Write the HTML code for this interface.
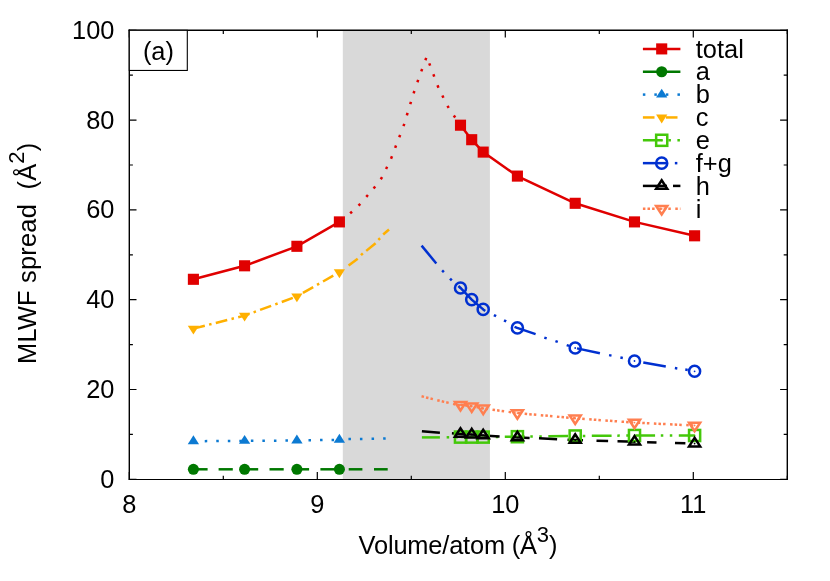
<!DOCTYPE html>
<html><head><meta charset="utf-8"><title>MLWF spread</title>
<style>html,body{margin:0;padding:0;background:#fff;}svg{display:block;will-change:transform;}text{font-family:"Liberation Sans", sans-serif;font-size:25.4px;fill:#000;}</style></head><body>
<svg width="830" height="581" viewBox="0 0 830 581">
<rect x="0" y="0" width="830" height="581" fill="#ffffff"/>
<rect x="342.8" y="30.3" width="147.1" height="449" fill="#d9d9d9"/>
<g stroke="#000" stroke-width="1.2" fill="none">
<path d="M129.3,479.3V472.1M129.3,30.3V37.5"/>
<path d="M223.3,479.3V475.7M223.3,30.3V33.9"/>
<path d="M317.3,479.3V472.1M317.3,30.3V37.5"/>
<path d="M411.3,479.3V475.7M411.3,30.3V33.9"/>
<path d="M505.3,479.3V472.1M505.3,30.3V37.5"/>
<path d="M599.3,479.3V475.7M599.3,30.3V33.9"/>
<path d="M693.3,479.3V472.1M693.3,30.3V37.5"/>
<path d="M787.3,479.3V475.7M787.3,30.3V33.9"/>
<path d="M129.3,479.3H136.5M787.3,479.3H780.1"/>
<path d="M129.3,434.4H132.9M787.3,434.4H783.7"/>
<path d="M129.3,389.5H136.5M787.3,389.5H780.1"/>
<path d="M129.3,344.6H132.9M787.3,344.6H783.7"/>
<path d="M129.3,299.7H136.5M787.3,299.7H780.1"/>
<path d="M129.3,254.8H132.9M787.3,254.8H783.7"/>
<path d="M129.3,209.9H136.5M787.3,209.9H780.1"/>
<path d="M129.3,165H132.9M787.3,165H783.7"/>
<path d="M129.3,120.1H136.5M787.3,120.1H780.1"/>
<path d="M129.3,75.2H132.9M787.3,75.2H783.7"/>
<path d="M129.3,30.3H136.5M787.3,30.3H780.1"/>
</g>
<polyline points="193.4,469.3 207.6,469.3" fill="none" stroke="#007800" stroke-width="2.5"/>
<polyline points="218.6,469.3 232.8,469.3" fill="none" stroke="#007800" stroke-width="2.5"/>
<polyline points="244,469.3 258.2,469.3" fill="none" stroke="#007800" stroke-width="2.5"/>
<polyline points="269.5,469.3 283.7,469.3" fill="none" stroke="#007800" stroke-width="2.5"/>
<polyline points="294.9,469.3 309.1,469.3" fill="none" stroke="#007800" stroke-width="2.5"/>
<polyline points="320.4,469.3 334.6,469.3" fill="none" stroke="#007800" stroke-width="2.5"/>
<polyline points="348.7,469.3 362.4,469.3" fill="none" stroke="#007800" stroke-width="2.5"/>
<polyline points="374,469.3 387.7,469.3" fill="none" stroke="#007800" stroke-width="2.5"/>
<circle cx="193.4" cy="469.3" r="5.55" fill="#007800"/>
<circle cx="244.6" cy="469.3" r="5.55" fill="#007800"/>
<circle cx="296.9" cy="469.3" r="5.55" fill="#007800"/>
<circle cx="339.4" cy="469.3" r="5.55" fill="#007800"/>
<line x1="204.75" y1="441.13" x2="207.25" y2="441.12" stroke="#0c7ad2" stroke-width="2.5"/>
<line x1="216.28" y1="441.07" x2="218.78" y2="441.05" stroke="#0c7ad2" stroke-width="2.5"/>
<line x1="227.81" y1="441" x2="230.31" y2="440.98" stroke="#0c7ad2" stroke-width="2.5"/>
<line x1="239.34" y1="440.93" x2="241.84" y2="440.92" stroke="#0c7ad2" stroke-width="2.5"/>
<line x1="250.87" y1="440.85" x2="253.37" y2="440.83" stroke="#0c7ad2" stroke-width="2.5"/>
<line x1="262.4" y1="440.76" x2="264.9" y2="440.74" stroke="#0c7ad2" stroke-width="2.5"/>
<line x1="273.93" y1="440.68" x2="276.43" y2="440.66" stroke="#0c7ad2" stroke-width="2.5"/>
<line x1="285.46" y1="440.59" x2="287.96" y2="440.57" stroke="#0c7ad2" stroke-width="2.5"/>
<line x1="296.99" y1="440.49" x2="299.49" y2="440.46" stroke="#0c7ad2" stroke-width="2.5"/>
<line x1="308.52" y1="440.31" x2="311.02" y2="440.27" stroke="#0c7ad2" stroke-width="2.5"/>
<line x1="320.05" y1="440.12" x2="322.55" y2="440.08" stroke="#0c7ad2" stroke-width="2.5"/>
<line x1="331.58" y1="439.93" x2="334.08" y2="439.89" stroke="#0c7ad2" stroke-width="2.5"/>
<line x1="348.45" y1="439.12" x2="350.95" y2="439.08" stroke="#0c7ad2" stroke-width="2.5"/>
<line x1="359.95" y1="438.92" x2="362.45" y2="438.88" stroke="#0c7ad2" stroke-width="2.5"/>
<line x1="371.55" y1="438.82" x2="374.05" y2="438.78" stroke="#0c7ad2" stroke-width="2.5"/>
<line x1="383.15" y1="438.53" x2="385.65" y2="438.47" stroke="#0c7ad2" stroke-width="2.5"/>
<polygon points="193.4,435.25 187.75,444.15 199.05,444.15" fill="#0c7ad2"/>
<polygon points="244.6,434.95 238.95,443.85 250.25,443.85" fill="#0c7ad2"/>
<polygon points="296.9,434.55 291.25,443.45 302.55,443.45" fill="#0c7ad2"/>
<polygon points="339.4,433.85 333.75,442.75 345.05,442.75" fill="#0c7ad2"/>
<polyline points="193.4,328.6 244.6,315.6 296.9,296.4 339.4,272.2" fill="none" stroke="#ffb000" stroke-width="2.5" stroke-dasharray="11.8 4.4 2.5 4.4"/>
<polyline points="348.6,265.6 357.7,258.8" fill="none" stroke="#ffb000" stroke-width="2.5"/>
<polyline points="366.2,250.9 375.6,243.2" fill="none" stroke="#ffb000" stroke-width="2.5"/>
<polyline points="383.2,234.5 389,229.5" fill="none" stroke="#ffb000" stroke-width="2.5"/>
<line x1="361" y1="255.16" x2="362.8" y2="253.44" stroke="#ffb000" stroke-width="2.5"/>
<line x1="378.3" y1="239.96" x2="380.1" y2="238.24" stroke="#ffb000" stroke-width="2.5"/>
<polygon points="193.4,334.55 187.75,325.65 199.05,325.65" fill="#ffb000"/>
<polygon points="244.6,321.55 238.95,312.65 250.25,312.65" fill="#ffb000"/>
<polygon points="296.9,302.35 291.25,293.45 302.55,293.45" fill="#ffb000"/>
<polygon points="339.4,278.15 333.75,269.25 345.05,269.25" fill="#ffb000"/>
<polyline points="421.9,437.4 439.9,437.4" fill="none" stroke="#44c80a" stroke-width="2.5"/>
<line x1="446.65" y1="437.3" x2="449.15" y2="437.3" stroke="#44c80a" stroke-width="2.5"/>
<line x1="455.35" y1="437.2" x2="457.85" y2="437.2" stroke="#44c80a" stroke-width="2.5"/>
<polyline points="460.5,437.1 471.7,437.1 483.2,437.1 517.4,436.7 575.2,436 634.5,435.5 694.6,435.5" fill="none" stroke="#44c80a" stroke-width="2.5" stroke-dasharray="19.8 5.7 2.5 6.5 2.5 6.5" stroke-dashoffset="42.7"/>
<polyline points="421.9,431.3 439.9,432.7" fill="none" stroke="#000000" stroke-width="2.5"/>
<polyline points="451.9,433.3 460.5,433.9 471.7,434.6 483.2,435.4 499.6,436.4" fill="none" stroke="#000000" stroke-width="2.5"/>
<polyline points="513,437.14 529.6,437.95" fill="none" stroke="#000000" stroke-width="2.5"/>
<polyline points="539,438.37 557.1,439.19" fill="none" stroke="#000000" stroke-width="2.5"/>
<polyline points="567.5,439.65 583,440.24" fill="none" stroke="#000000" stroke-width="2.5"/>
<polyline points="596.5,440.65 608.1,441" fill="none" stroke="#000000" stroke-width="2.5"/>
<polyline points="617.5,441.28 635.6,441.83" fill="none" stroke="#000000" stroke-width="2.5"/>
<polyline points="647.1,442.18 656.5,442.46" fill="none" stroke="#000000" stroke-width="2.5"/>
<polyline points="675,443.01 685.4,443.32" fill="none" stroke="#000000" stroke-width="2.5"/>
<polyline points="421.55,396.3 440,400.9 460.5,405.6" fill="none" stroke="#ff7f50" stroke-width="2.5" stroke-dasharray="2.5 2.1 2.5 2.1 2.5 4.5"/>
<polyline points="460.5,404.8 471.7,406.2 483.2,408.4 517.4,413.1 575.2,418.3 634.5,422.6 694.6,425.5" fill="none" stroke="#ff7f50" stroke-width="2.5" stroke-dasharray="2.5 2.1 2.5 2.1 2.5 4.5"/>
<polyline points="421.6,245.6 436.3,263.5" fill="none" stroke="#0030d0" stroke-width="2.5"/>
<polyline points="458.4,286 460.5,288 471.7,299.6 483.2,309.4 485.2,311" fill="none" stroke="#0030d0" stroke-width="2.5"/>
<polyline points="514.5,326.8 517.2,327.9 535.6,334.1" fill="none" stroke="#0030d0" stroke-width="2.5"/>
<polyline points="577,348.4 599.9,353.3" fill="none" stroke="#0030d0" stroke-width="2.5"/>
<polyline points="643.3,362.5 665.8,366.4" fill="none" stroke="#0030d0" stroke-width="2.5"/>
<line x1="442.13" y1="270.4" x2="443.87" y2="272.2" stroke="#0030d0" stroke-width="2.5"/>
<line x1="450.03" y1="278.6" x2="451.77" y2="280.4" stroke="#0030d0" stroke-width="2.5"/>
<line x1="493.89" y1="315.02" x2="496.11" y2="316.18" stroke="#0030d0" stroke-width="2.5"/>
<line x1="503.99" y1="320.32" x2="506.21" y2="321.48" stroke="#0030d0" stroke-width="2.5"/>
<line x1="544.31" y1="337.6" x2="546.69" y2="338.4" stroke="#0030d0" stroke-width="2.5"/>
<line x1="555.41" y1="341.1" x2="557.79" y2="341.9" stroke="#0030d0" stroke-width="2.5"/>
<line x1="566.71" y1="345.1" x2="569.09" y2="345.9" stroke="#0030d0" stroke-width="2.5"/>
<line x1="609.08" y1="355.15" x2="611.52" y2="355.65" stroke="#0030d0" stroke-width="2.5"/>
<line x1="620.38" y1="357.45" x2="622.82" y2="357.95" stroke="#0030d0" stroke-width="2.5"/>
<line x1="674.87" y1="368" x2="677.33" y2="368.4" stroke="#0030d0" stroke-width="2.5"/>
<line x1="685.27" y1="369.6" x2="687.73" y2="370" stroke="#0030d0" stroke-width="2.5"/>
<polyline points="193.4,279.3 244.6,265.8 296.9,246.3 339.4,221.9" fill="none" stroke="#e00000" stroke-width="2.5"/>
<polyline points="460.5,125.2 471.7,139.7 483.2,152.1 517.4,176.1 575.2,203.3 634.5,221.9 694.6,235.8" fill="none" stroke="#e00000" stroke-width="2.5"/>
<line x1="350.15" y1="213.32" x2="352.05" y2="211.68" stroke="#e00000" stroke-width="2.5"/>
<line x1="358.53" y1="205.6" x2="360.27" y2="203.8" stroke="#e00000" stroke-width="2.5"/>
<line x1="366.28" y1="196.84" x2="367.92" y2="194.96" stroke="#e00000" stroke-width="2.5"/>
<line x1="373.61" y1="188.47" x2="375.19" y2="186.53" stroke="#e00000" stroke-width="2.5"/>
<line x1="380.74" y1="179.26" x2="382.06" y2="177.14" stroke="#e00000" stroke-width="2.5"/>
<line x1="386.05" y1="169.02" x2="387.15" y2="166.78" stroke="#e00000" stroke-width="2.5"/>
<line x1="391.01" y1="158.65" x2="391.99" y2="156.35" stroke="#e00000" stroke-width="2.5"/>
<line x1="395.15" y1="147.87" x2="396.05" y2="145.53" stroke="#e00000" stroke-width="2.5"/>
<line x1="399.25" y1="137.27" x2="400.15" y2="134.93" stroke="#e00000" stroke-width="2.5"/>
<line x1="403.5" y1="126.18" x2="404.3" y2="123.82" stroke="#e00000" stroke-width="2.5"/>
<line x1="406.84" y1="115.3" x2="407.56" y2="112.9" stroke="#e00000" stroke-width="2.5"/>
<line x1="410.23" y1="104.19" x2="410.97" y2="101.81" stroke="#e00000" stroke-width="2.5"/>
<line x1="413.61" y1="93.39" x2="414.39" y2="91.01" stroke="#e00000" stroke-width="2.5"/>
<line x1="417.39" y1="82.28" x2="418.21" y2="79.92" stroke="#e00000" stroke-width="2.5"/>
<line x1="421.27" y1="71.37" x2="422.13" y2="69.03" stroke="#e00000" stroke-width="2.5"/>
<line x1="425.37" y1="60.27" x2="426.23" y2="57.93" stroke="#e00000" stroke-width="2.5"/>
<line x1="429.27" y1="63.33" x2="430.13" y2="65.67" stroke="#e00000" stroke-width="2.5"/>
<line x1="433.36" y1="74.23" x2="434.24" y2="76.57" stroke="#e00000" stroke-width="2.5"/>
<line x1="437.51" y1="85.35" x2="438.49" y2="87.65" stroke="#e00000" stroke-width="2.5"/>
<line x1="442.35" y1="95.48" x2="443.45" y2="97.72" stroke="#e00000" stroke-width="2.5"/>
<line x1="447.47" y1="105.82" x2="448.73" y2="107.98" stroke="#e00000" stroke-width="2.5"/>
<line x1="453.8" y1="115.47" x2="455.2" y2="117.53" stroke="#e00000" stroke-width="2.5"/>
<rect x="454.95" y="431.55" width="11.1" height="11.1" fill="none" stroke="#44c80a" stroke-width="2.5"/>
<circle cx="460.5" cy="437.1" r="0.9" fill="#44c80a"/>
<rect x="466.15" y="431.55" width="11.1" height="11.1" fill="none" stroke="#44c80a" stroke-width="2.5"/>
<circle cx="471.7" cy="437.1" r="0.9" fill="#44c80a"/>
<rect x="477.65" y="431.55" width="11.1" height="11.1" fill="none" stroke="#44c80a" stroke-width="2.5"/>
<circle cx="483.2" cy="437.1" r="0.9" fill="#44c80a"/>
<rect x="511.85" y="431.15" width="11.1" height="11.1" fill="none" stroke="#44c80a" stroke-width="2.5"/>
<circle cx="517.4" cy="436.7" r="0.9" fill="#44c80a"/>
<rect x="569.65" y="430.45" width="11.1" height="11.1" fill="none" stroke="#44c80a" stroke-width="2.5"/>
<circle cx="575.2" cy="436" r="0.9" fill="#44c80a"/>
<rect x="628.95" y="429.95" width="11.1" height="11.1" fill="none" stroke="#44c80a" stroke-width="2.5"/>
<circle cx="634.5" cy="435.5" r="0.9" fill="#44c80a"/>
<rect x="689.05" y="429.95" width="11.1" height="11.1" fill="none" stroke="#44c80a" stroke-width="2.5"/>
<circle cx="694.6" cy="435.5" r="0.9" fill="#44c80a"/>
<circle cx="460.5" cy="288" r="5.55" fill="none" stroke="#0030d0" stroke-width="2.5"/>
<circle cx="460.5" cy="288" r="0.9" fill="#0030d0"/>
<circle cx="471.7" cy="299.6" r="5.55" fill="none" stroke="#0030d0" stroke-width="2.5"/>
<circle cx="471.7" cy="299.6" r="0.9" fill="#0030d0"/>
<circle cx="483.2" cy="309.4" r="5.55" fill="none" stroke="#0030d0" stroke-width="2.5"/>
<circle cx="483.2" cy="309.4" r="0.9" fill="#0030d0"/>
<circle cx="517.4" cy="327.9" r="5.55" fill="none" stroke="#0030d0" stroke-width="2.5"/>
<circle cx="517.4" cy="327.9" r="0.9" fill="#0030d0"/>
<circle cx="575.2" cy="348" r="5.55" fill="none" stroke="#0030d0" stroke-width="2.5"/>
<circle cx="575.2" cy="348" r="0.9" fill="#0030d0"/>
<circle cx="634.5" cy="361" r="5.55" fill="none" stroke="#0030d0" stroke-width="2.5"/>
<circle cx="634.5" cy="361" r="0.9" fill="#0030d0"/>
<circle cx="694.6" cy="371.3" r="5.55" fill="none" stroke="#0030d0" stroke-width="2.5"/>
<circle cx="694.6" cy="371.3" r="0.9" fill="#0030d0"/>
<polygon points="460.5,428.2 454.95,436.7 466.05,436.7" fill="none" stroke="#000000" stroke-width="2.5" stroke-linejoin="miter"/>
<circle cx="460.5" cy="433.9" r="0.9" fill="#000000"/>
<polygon points="471.7,428.9 466.15,437.4 477.25,437.4" fill="none" stroke="#000000" stroke-width="2.5" stroke-linejoin="miter"/>
<circle cx="471.7" cy="434.6" r="0.9" fill="#000000"/>
<polygon points="483.2,429.7 477.65,438.2 488.75,438.2" fill="none" stroke="#000000" stroke-width="2.5" stroke-linejoin="miter"/>
<circle cx="483.2" cy="435.4" r="0.9" fill="#000000"/>
<polygon points="517.4,431.7 511.85,440.2 522.95,440.2" fill="none" stroke="#000000" stroke-width="2.5" stroke-linejoin="miter"/>
<circle cx="517.4" cy="437.4" r="0.9" fill="#000000"/>
<polygon points="575.2,434.3 569.65,442.8 580.75,442.8" fill="none" stroke="#000000" stroke-width="2.5" stroke-linejoin="miter"/>
<circle cx="575.2" cy="440" r="0.9" fill="#000000"/>
<polygon points="634.5,436.1 628.95,444.6 640.05,444.6" fill="none" stroke="#000000" stroke-width="2.5" stroke-linejoin="miter"/>
<circle cx="634.5" cy="441.8" r="0.9" fill="#000000"/>
<polygon points="694.6,437.9 689.05,446.4 700.15,446.4" fill="none" stroke="#000000" stroke-width="2.5" stroke-linejoin="miter"/>
<circle cx="694.6" cy="443.6" r="0.9" fill="#000000"/>
<polygon points="460.5,410.5 454.95,402 466.05,402" fill="none" stroke="#ff7f50" stroke-width="2.5" stroke-linejoin="miter"/>
<circle cx="460.5" cy="404.8" r="0.9" fill="#ff7f50"/>
<polygon points="471.7,411.9 466.15,403.4 477.25,403.4" fill="none" stroke="#ff7f50" stroke-width="2.5" stroke-linejoin="miter"/>
<circle cx="471.7" cy="406.2" r="0.9" fill="#ff7f50"/>
<polygon points="483.2,414.1 477.65,405.6 488.75,405.6" fill="none" stroke="#ff7f50" stroke-width="2.5" stroke-linejoin="miter"/>
<circle cx="483.2" cy="408.4" r="0.9" fill="#ff7f50"/>
<polygon points="517.4,418.8 511.85,410.3 522.95,410.3" fill="none" stroke="#ff7f50" stroke-width="2.5" stroke-linejoin="miter"/>
<circle cx="517.4" cy="413.1" r="0.9" fill="#ff7f50"/>
<polygon points="575.2,424 569.65,415.5 580.75,415.5" fill="none" stroke="#ff7f50" stroke-width="2.5" stroke-linejoin="miter"/>
<circle cx="575.2" cy="418.3" r="0.9" fill="#ff7f50"/>
<polygon points="634.5,428.3 628.95,419.8 640.05,419.8" fill="none" stroke="#ff7f50" stroke-width="2.5" stroke-linejoin="miter"/>
<circle cx="634.5" cy="422.6" r="0.9" fill="#ff7f50"/>
<polygon points="694.6,431.2 689.05,422.7 700.15,422.7" fill="none" stroke="#ff7f50" stroke-width="2.5" stroke-linejoin="miter"/>
<circle cx="694.6" cy="425.5" r="0.9" fill="#ff7f50"/>
<rect x="187.85" y="273.75" width="11.1" height="11.1" fill="#e00000"/>
<rect x="239.05" y="260.25" width="11.1" height="11.1" fill="#e00000"/>
<rect x="291.35" y="240.75" width="11.1" height="11.1" fill="#e00000"/>
<rect x="333.85" y="216.35" width="11.1" height="11.1" fill="#e00000"/>
<rect x="454.95" y="119.65" width="11.1" height="11.1" fill="#e00000"/>
<rect x="466.15" y="134.15" width="11.1" height="11.1" fill="#e00000"/>
<rect x="477.65" y="146.55" width="11.1" height="11.1" fill="#e00000"/>
<rect x="511.85" y="170.55" width="11.1" height="11.1" fill="#e00000"/>
<rect x="569.65" y="197.75" width="11.1" height="11.1" fill="#e00000"/>
<rect x="628.95" y="216.35" width="11.1" height="11.1" fill="#e00000"/>
<rect x="689.05" y="230.25" width="11.1" height="11.1" fill="#e00000"/>
<g stroke="#000" fill="none" stroke-linecap="square"><line x1="129.3" y1="30.3" x2="787.3" y2="30.3" stroke-width="1.4"/><line x1="129.3" y1="479.45" x2="787.3" y2="479.45" stroke-width="1.15"/><line x1="129.3" y1="30.3" x2="129.3" y2="479.3" stroke-width="1.4"/><line x1="787.3" y1="30.3" x2="787.3" y2="479.3" stroke-width="1.4"/></g>
<rect x="129.3" y="30.3" width="58" height="40.15" fill="#ffffff" stroke="#000" stroke-width="1.1"/>
<text x="158.4" y="59.9" text-anchor="middle">(a)</text>
<polyline points="642.9,48.9 680.4,48.9" fill="none" stroke="#e00000" stroke-width="2.5"/>
<rect x="656.15" y="43.35" width="11.1" height="11.1" fill="#e00000"/>
<polyline points="642.9,71.75 657.1,71.75" fill="none" stroke="#007800" stroke-width="2.5"/>
<polyline points="667,71.75 680.4,71.75" fill="none" stroke="#007800" stroke-width="2.5"/>
<circle cx="661.7" cy="71.75" r="5.55" fill="#007800"/>
<line x1="642.85" y1="94.6" x2="645.35" y2="94.6" stroke="#0c7ad2" stroke-width="2.5"/>
<line x1="654.35" y1="94.6" x2="656.85" y2="94.6" stroke="#0c7ad2" stroke-width="2.5"/>
<line x1="665.85" y1="94.6" x2="668.35" y2="94.6" stroke="#0c7ad2" stroke-width="2.5"/>
<line x1="677.45" y1="94.6" x2="679.95" y2="94.6" stroke="#0c7ad2" stroke-width="2.5"/>
<polygon points="661.7,88.65 656.05,97.55 667.35,97.55" fill="#0c7ad2"/>
<polyline points="642.9,117.45 654.5,117.45" fill="none" stroke="#ffb000" stroke-width="2.5"/>
<polyline points="665.9,117.45 677.5,117.45" fill="none" stroke="#ffb000" stroke-width="2.5"/>
<polygon points="661.7,123.4 656.05,114.5 667.35,114.5" fill="#ffb000"/>
<polyline points="642.9,140.3 680.4,140.3" fill="none" stroke="#44c80a" stroke-width="2.5" stroke-dasharray="19.8 5.7 2.5 6.5 2.5 6.5"/>
<rect x="656.15" y="134.75" width="11.1" height="11.1" fill="none" stroke="#44c80a" stroke-width="2.5"/>
<circle cx="661.7" cy="140.3" r="0.9" fill="#44c80a"/>
<polyline points="642.9,163.15 667,163.15" fill="none" stroke="#0030d0" stroke-width="2.5"/>
<line x1="674.85" y1="163.15" x2="677.35" y2="163.15" stroke="#0030d0" stroke-width="2.5"/>
<circle cx="661.7" cy="163.15" r="5.55" fill="none" stroke="#0030d0" stroke-width="2.5"/>
<circle cx="661.7" cy="163.15" r="0.9" fill="#0030d0"/>
<polyline points="642.9,185.9 667,185.9" fill="none" stroke="#000000" stroke-width="2.5"/>
<polyline points="673,185.9 680.4,185.9" fill="none" stroke="#000000" stroke-width="2.5"/>
<polygon points="661.7,180.2 656.15,188.7 667.25,188.7" fill="none" stroke="#000000" stroke-width="2.5" stroke-linejoin="miter"/>
<circle cx="661.7" cy="185.9" r="0.9" fill="#000000"/>
<polyline points="642.9,208.85 680.4,208.85" fill="none" stroke="#ff7f50" stroke-width="2.5" stroke-dasharray="2.5 2.1 2.5 2.1 2.5 4.5"/>
<polygon points="661.7,214.55 656.15,206.05 667.25,206.05" fill="none" stroke="#ff7f50" stroke-width="2.5" stroke-linejoin="miter"/>
<circle cx="661.7" cy="208.85" r="0.9" fill="#ff7f50"/>
<text x="695.8" y="57.6">total</text>
<text x="695.8" y="80.45">a</text>
<text x="695.8" y="103.3">b</text>
<text x="695.8" y="126.15">c</text>
<text x="695.8" y="149">e</text>
<text x="695.8" y="171.85">f+g</text>
<text x="695.8" y="194.6">h</text>
<text x="695.8" y="217.55">i</text>
<text x="129.3" y="513.4" text-anchor="middle">8</text>
<text x="317.3" y="513.4" text-anchor="middle">9</text>
<text x="505.3" y="513.4" text-anchor="middle">10</text>
<text x="693.3" y="513.4" text-anchor="middle">11</text>
<text x="114.4" y="487.7" text-anchor="end">0</text>
<text x="114.4" y="397.9" text-anchor="end">20</text>
<text x="114.4" y="308.1" text-anchor="end">40</text>
<text x="114.4" y="218.3" text-anchor="end">60</text>
<text x="114.4" y="128.5" text-anchor="end">80</text>
<text x="114.4" y="38.7" text-anchor="end">100</text>
<text x="458.0" y="553.9" text-anchor="middle" textLength="198.8" lengthAdjust="spacing">Volume/atom (&#197;<tspan font-size="22" dy="-11.8">3</tspan><tspan dy="11.8">)</tspan></text>
<text transform="translate(35.7,253.3) rotate(-90)" text-anchor="middle" textLength="221.2" lengthAdjust="spacing">MLWF spread&#160;&#160;(&#197;<tspan font-size="22" dy="-11.8">2</tspan><tspan dy="11.8">)</tspan></text>
</svg></body></html>
